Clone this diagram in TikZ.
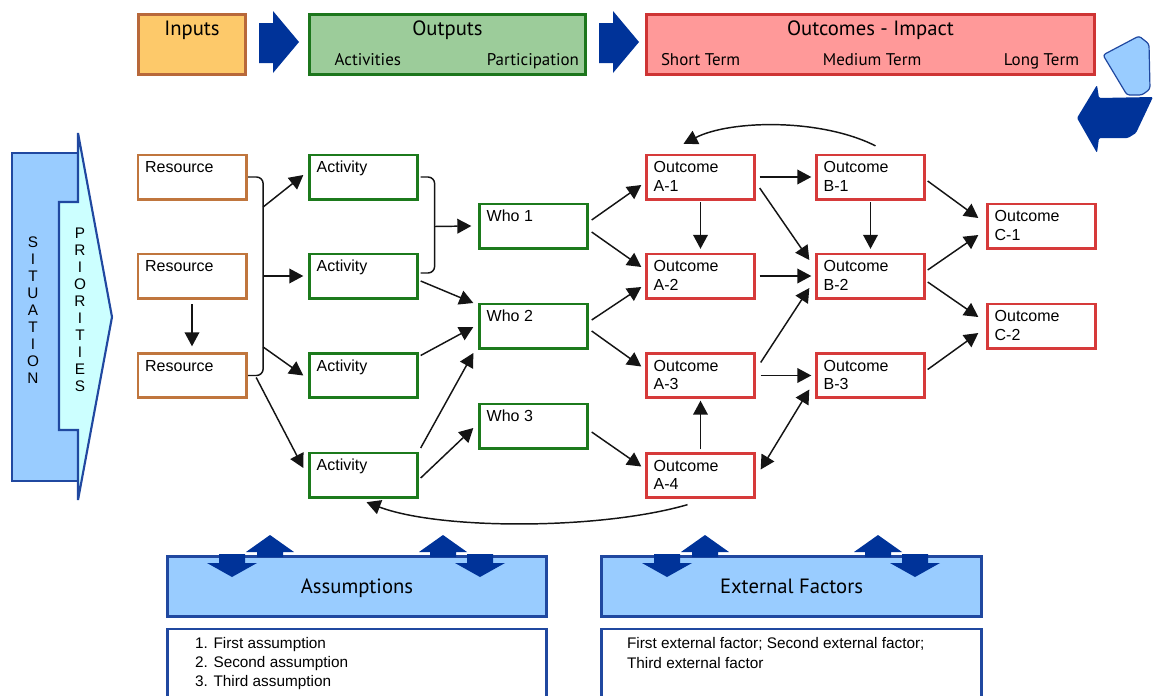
\documentclass[tikz,border=0pt]{standalone}
\usepackage{fontspec}
\setmainfont{Liberation Sans}
\newfontfamily\hdrfont{PT Sans}
\usetikzlibrary{arrows.meta,calc}
\definecolor{resC}{RGB}{192,118,62}
\definecolor{grnC}{RGB}{28,122,28}
\definecolor{redC}{RGB}{214,58,58}
\definecolor{inFill}{RGB}{253,201,106}
\definecolor{inDraw}{RGB}{184,104,58}
\definecolor{outFill}{RGB}{156,204,154}
\definecolor{outDraw}{RGB}{28,118,28}
\definecolor{ocFill}{RGB}{255,153,153}
\definecolor{ocDraw}{RGB}{206,52,52}
\definecolor{bluFill}{RGB}{153,204,255}
\definecolor{bluDraw}{RGB}{32,72,160}
\definecolor{cyFill}{RGB}{204,255,255}
\definecolor{dkBlue}{RGB}{0,51,153}
\definecolor{lnC}{RGB}{20,20,20}
\newcommand{\boxtxt}[1]{\parbox[c][33.25pt][t]{81.25pt}{\raggedright\leftskip=5.5pt\fontsize{12}{13.75}\selectfont\rule{0pt}{13.6pt}#1}}
\newcommand{\hdrtxt}[3]{\parbox[c][45.25pt][t]{#1}{\centering\hdrfont\fontsize{15.5}{21.75}\selectfont\rule{0pt}{16.25pt}#2\\\fontsize{12.7}{21.75}\selectfont #3}}
\begin{document}
\begin{tikzpicture}[x=0.75pt,y=-0.75pt,
  nodebox/.style={draw, line width=2pt, fill=white, inner sep=0pt, outer sep=0pt},
  rbox/.style={nodebox, draw=resC},
  gbox/.style={nodebox, draw=grnC},
  obox/.style={nodebox, draw=redC},
  hdr/.style={line width=2pt, inner sep=0pt, outer sep=0pt, draw},
  bbox/.style={line width=2pt, inner sep=0pt, outer sep=0pt, draw=bluDraw},
  conn/.style={line width=1.1pt, draw=lnC},
  arr/.style={conn, -{Triangle[length=10.5pt,width=11pt]}},
  darr/.style={conn, {Triangle[length=10.5pt,width=11pt]}-{Triangle[length=10.5pt,width=11pt]}},
  blk/.style={fill=dkBlue}]
\useasboundingbox (0,0) rectangle (1153,696);

% ---------- header ----------
\node[hdr, fill=inFill, draw=inDraw] (inputs) at (192,44.5) {\hdrtxt{80.5pt}{Inputs}{\mbox{}}};
\node[hdr, fill=outFill, draw=outDraw] (outputs) at (447.5,44.5) {\hdrtxt{207.25pt}{Outputs}{\makebox[\linewidth]{\hspace{19pt}Activities\hfill Participation\hspace{5pt}}}};
\node[hdr, fill=ocFill, draw=ocDraw] (outcomes) at (870.5,44.5) {\hdrtxt{336.25pt}{Outcomes - Impact}{\makebox[\linewidth]{\hspace{11pt}Short Term\hfill Medium Term\hfill Long Term\hspace{11.75pt}}}};
\fill[blk] (259,23) -- (273,23) -- (273,11) -- (299,42) -- (273,73) -- (273,63) -- (259,63) -- cycle;
\fill[blk] (599,23) -- (613,23) -- (613,11) -- (639,42) -- (613,73) -- (613,63) -- (599,63) -- cycle;
% top right cycle arrow
\filldraw[fill=bluFill, draw=bluDraw, line width=0.9pt, rounded corners=2pt] (1103,55) -- (1139,36) -- (1149,44) -- (1150,89) -- (1142,95) -- (1127,95) -- cycle;
\fill[blk, rounded corners=1pt] (1077,118) -- (1097,85) -- (1099,98) -- (1153,97) -- (1136,133) -- (1128,138) -- (1099,138) -- (1097,153) -- cycle;

% ---------- situation / priorities ----------
\filldraw[fill=bluFill, draw=bluDraw, line width=2pt] (12,153) rectangle (78,481);
\filldraw[fill=cyFill, draw=bluDraw, line width=1.6pt, line join=miter] (59,202) -- (78,202) -- (78,133) -- (112,317) -- (78,500) -- (78,430) -- (59,430) -- cycle;
\node[align=center, inner sep=0pt, font=\fontsize{11.5}{12.75}\selectfont] (situation) at (33,310) {S\\I\\T\\U\\A\\T\\I\\O\\N};
\node[align=center, inner sep=0pt, font=\fontsize{11.5}{12.75}\selectfont] (priorities) at (80,310) {P\\R\\I\\O\\R\\I\\T\\I\\E\\S};

% ---------- nodes ----------
\node[rbox] (r1) at (192,177) {\boxtxt{Resource}};
\node[rbox] (r2) at (192,276) {\boxtxt{Resource}};
\node[rbox] (r3) at (192,375.5) {\boxtxt{Resource}};
\node[gbox] (act1) at (363.5,177) {\boxtxt{Activity}};
\node[gbox] (act2) at (363.5,276) {\boxtxt{Activity}};
\node[gbox] (act3) at (363.5,375.5) {\boxtxt{Activity}};
\node[gbox] (act4) at (363.5,475) {\boxtxt{Activity}};
\node[gbox] (who1) at (533.5,226) {\boxtxt{Who 1}};
\node[gbox] (who2) at (533.5,326) {\boxtxt{Who 2}};
\node[gbox] (who3) at (533.5,426) {\boxtxt{Who 3}};
\node[obox] (a1) at (700.5,177) {\boxtxt{Outcome\\A-1}};
\node[obox] (a2) at (700.5,276) {\boxtxt{Outcome\\A-2}};
\node[obox] (a3) at (700.5,375.5) {\boxtxt{Outcome\\A-3}};
\node[obox] (a4) at (700.5,475.5) {\boxtxt{Outcome\\A-4}};
\node[obox] (b1) at (870.5,177) {\boxtxt{Outcome\\B-1}};
\node[obox] (b2) at (870.5,276) {\boxtxt{Outcome\\B-2}};
\node[obox] (b3) at (870.5,375.5) {\boxtxt{Outcome\\B-3}};
\node[obox] (c1) at (1041.5,226) {\boxtxt{Outcome\\C-1}};
\node[obox] (c2) at (1041.5,326) {\boxtxt{Outcome\\C-2}};

% ---------- connectors ----------
\coordinate (rbr) at ($(r2.east)+(17,0)$);
\draw[conn, rounded corners=5pt] ($(r1.east)+(2,0)$) -| (rbr) |- ($(r3.east)+(2,0)$);
\draw[arr] ($(rbr)+(0,-69)$) -- ($(act1.west)+(-6,-2)$);
\draw[arr] (rbr) -- ($(act2.west)+(-6,0)$);
\draw[arr] ($(rbr)+(0,71)$) -- ($(act3.west)+(-6,0)$);
\draw[arr] ($(r3.east)+(10,2)$) -- ($(act4.west)+(-6,-7)$);
\draw[arr] ($(r2.south)+(0,6)$) -- ($(r3.north)+(0,-7)$);

\coordinate (abr) at ($(act1.east)!.5!(act2.east)+(17,0)$);
\draw[conn, rounded corners=5pt] ($(act1.east)+(3,0)$) -| (abr) |- ($(act2.east)+(3,-3)$);
\draw[arr] (abr) -- ($(who1.west)+(-8,0)$);
\draw[arr] ($(act2.east)+(3,5)$) -- ($(who2.west)+(-6,-23)$);
\draw[arr] ($(act3.east)+(3,-20)$) -- ($(who2.west)+(-6,1)$);
\draw[arr] ($(act4.east)+(3,-27)$) -- ($(who2.west)+(-6,27)$);
\draw[arr] ($(act4.east)+(3,3)$) -- ($(who3.west)+(-6,2)$);

\draw[arr] ($(who1.east)+(4,-6)$) -- ($(a1.west)+(-5,8)$);
\draw[arr] ($(who1.east)+(4,6)$) -- ($(a2.west)+(-5,-9)$);
\draw[arr] ($(who2.east)+(4,-6)$) -- ($(a2.west)+(-5,11)$);
\draw[arr] ($(who2.east)+(4,5)$) -- ($(a3.west)+(-5,-9)$);
\draw[arr] ($(who3.east)+(4,6)$) -- ($(a4.west)+(-5,-9)$);

\draw[arr] ($(a1.south)+(0,3)$) -- ($(a2.north)+(0,-5)$);
\draw[arr] ($(a4.north)+(0,-4)$) -- ($(a3.south)+(0,3)$);
\draw[arr] ($(a1.east)+(5,0)$) -- ($(b1.west)+(-5,0)$);
\draw[arr] ($(a1.east)+(5,11)$) -- ($(b2.west)+(-7,-16)$);
\draw[arr] ($(a2.east)+(5,0)$) -- ($(b2.west)+(-5,0)$);
\draw[arr] ($(a3.east)+(6,-13)$) -- ($(b2.west)+(-7,12)$);
\draw[arr] ($(a3.east)+(6,0)$) -- ($(b3.west)+(-5,0)$);
\draw[darr] ($(a4.east)+(6,-6)$) -- ($(b3.west)+(-7,14)$);
\draw[arr] ($(b1.south)+(0,3)$) -- ($(b2.north)+(0,-5)$);
\draw[arr] ($(b1.east)+(3,4)$) -- ($(c1.west)+(-9,-8)$);
\draw[arr] ($(b2.east)+(3,-6)$) -- ($(c1.west)+(-9,9)$);
\draw[arr] ($(b2.east)+(3,6)$) -- ($(c2.west)+(-9,-9)$);
\draw[arr] ($(b3.east)+(3,-6)$) -- ($(c2.west)+(-9,7)$);

\draw[arr] ($(b1.north)+(5,-9)$) .. controls (820,118) and (730,120) .. ($(a1.north)+(-17,-11)$);
\draw[arr] ($(a4.south)+(-13,7)$) .. controls (600,530) and (440,530) .. ($(act4.south)+(3,5)$);

% ---------- bottom ----------
\node[bbox, fill=bluFill, minimum width=284.5pt, minimum height=45.25pt, text height=14.4pt, text depth=3.5pt] (assum) at (357,586.5) {\hdrfont\fontsize{15.5}{18}\selectfont Assumptions};
\node[bbox, fill=bluFill, minimum width=285.25pt, minimum height=45.25pt, text height=14.4pt, text depth=3.5pt] (ext) at (791.5,586.5) {\hdrfont\fontsize{15.5}{18}\selectfont External Factors};
\node[bbox, fill=white] (assumlist) at (357,663) {\parbox[c][51.25pt][t]{284.5pt}{\raggedright\leftskip=20.8pt\fontsize{11.5}{14.25}\selectfont\rule{0pt}{14.5pt}1. First assumption\\2. Second assumption\\3. Third assumption}};
\node[bbox, fill=white] (extlist) at (791.5,663) {\parbox[c][51.25pt][t]{285.25pt}{\raggedright\leftskip=19.3pt\fontsize{11.5}{14.5}\selectfont\rule{0pt}{15pt}First external factor; Second external factor;\\Third external factor}};

% block arrows (up / down) on the bottom boxes
\foreach \ux in {270,443,705,878}{
  \fill[blk] (\ux-13,557) -- (\ux-13,552) -- (\ux-24,552) -- (\ux,535) -- (\ux+24,552) -- (\ux+13,552) -- (\ux+13,557) -- cycle;}
\foreach \dx in {232,480,667,915}{
  \fill[blk] (\dx-13,554) -- (\dx-13,563) -- (\dx-25,563) -- (\dx,577) -- (\dx+25,563) -- (\dx+13,563) -- (\dx+13,554) -- cycle;}
\end{tikzpicture}
\end{document}
